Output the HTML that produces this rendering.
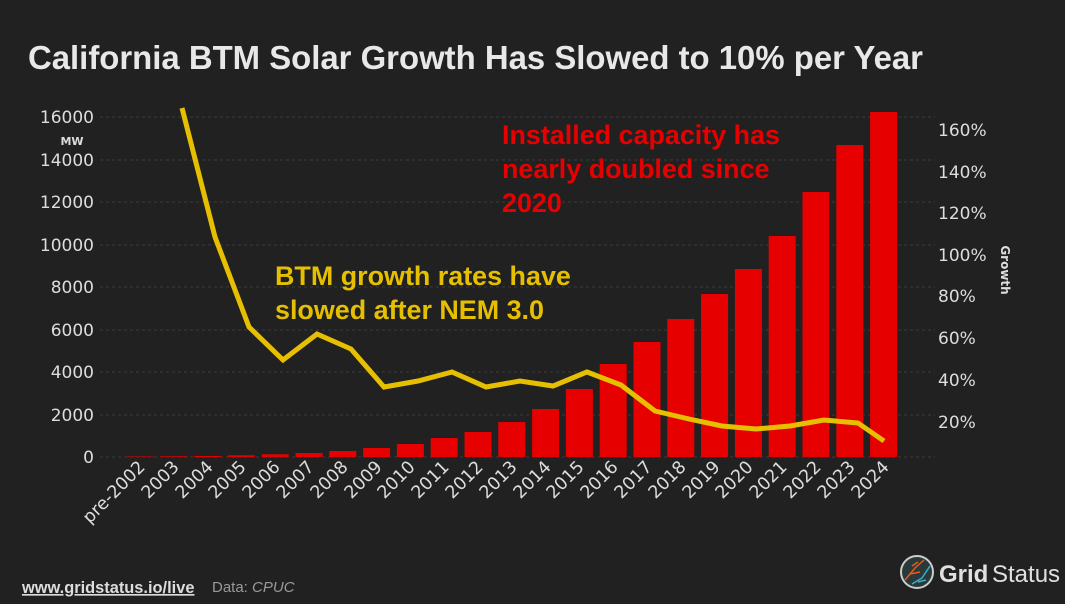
<!DOCTYPE html>
<html><head><meta charset="utf-8"><style>
html,body{margin:0;padding:0;background:#212121;}
svg{display:block;font-family:"DejaVu Sans",sans-serif;}
</style></head><body>
<svg width="1065" height="604" viewBox="0 0 1065 604" xmlns="http://www.w3.org/2000/svg">
<rect width="1065" height="604" fill="#212121"/>
<text x="28" y="69" font-family="Liberation Sans" font-weight="bold" font-size="32.9" fill="#e8e8e8">California BTM Solar Growth Has Slowed to 10% per Year</text>
<g stroke="#3a3a3a" stroke-width="1" stroke-dasharray="3,3">
<line x1="100" y1="117" x2="935" y2="117"/><line x1="100" y1="160" x2="935" y2="160"/>
<line x1="100" y1="202" x2="935" y2="202"/><line x1="100" y1="245" x2="935" y2="245"/>
<line x1="100" y1="287" x2="935" y2="287"/><line x1="100" y1="330" x2="935" y2="330"/>
<line x1="100" y1="372" x2="935" y2="372"/><line x1="100" y1="415" x2="935" y2="415"/>
<line x1="100" y1="457" x2="935" y2="457"/>
</g>
<g font-size="17" fill="#dddddd" text-anchor="end">
<text x="94" y="123">16000</text><text x="94" y="166">14000</text><text x="94" y="208">12000</text>
<text x="94" y="251">10000</text><text x="94" y="293">8000</text><text x="94" y="336">6000</text>
<text x="94" y="378">4000</text><text x="94" y="421">2000</text><text x="94" y="463">0</text>
</g>
<text x="72" y="145" font-size="11" font-weight="bold" fill="#dddddd" text-anchor="middle">MW</text>
<g font-size="17" fill="#dddddd">
<text x="938" y="136">160%</text><text x="938" y="178">140%</text><text x="938" y="219">120%</text>
<text x="938" y="261">100%</text><text x="938" y="302">80%</text><text x="938" y="344">60%</text>
<text x="938" y="386">40%</text><text x="938" y="428">20%</text>
</g>
<text transform="translate(1001,270) rotate(90)" font-size="12" font-weight="bold" fill="#dddddd" text-anchor="middle">Growth</text>
<g fill="#e60000">
<rect x="126.5" y="456.5" width="27" height="0.5"/>
<rect x="160.3" y="456.3" width="27" height="0.7"/>
<rect x="194.1" y="456" width="27" height="1"/>
<rect x="227.9" y="455.3" width="27" height="1.7"/>
<rect x="261.7" y="454.3" width="27" height="2.7"/>
<rect x="295.5" y="453" width="27" height="4"/>
<rect x="329.3" y="451" width="27" height="6"/>
<rect x="363.1" y="448" width="27" height="9"/>
<rect x="396.9" y="444" width="27" height="13"/>
<rect x="430.7" y="438" width="27" height="19"/>
<rect x="464.5" y="432" width="27" height="25"/>
<rect x="498.3" y="422" width="27" height="35"/>
<rect x="532.1" y="409" width="27" height="48"/>
<rect x="565.9" y="389" width="27" height="68"/>
<rect x="599.7" y="364" width="27" height="93"/>
<rect x="633.5" y="342" width="27" height="115"/>
<rect x="667.3" y="319" width="27" height="138"/>
<rect x="701.1" y="294" width="27" height="163"/>
<rect x="734.9" y="269" width="27" height="188"/>
<rect x="768.7" y="236" width="27" height="221"/>
<rect x="802.5" y="192" width="27" height="265"/>
<rect x="836.3" y="145" width="27" height="312"/>
<rect x="870.1" y="112" width="27" height="345"/>
</g>
<polyline fill="none" stroke="#e6c000" stroke-width="5" stroke-linejoin="miter"
points="182,108 215,237 249,327 283,360 317,334 351,349 384,387 418,381 452,372 486,387 520,381 553,386 587,372 621,385 655,411 689,419 722,426 756,429 790,426 824,420 858,423 884,441"/>
<g font-size="17.5" fill="#dddddd" text-anchor="end">
<text transform="translate(146,468) rotate(-45)">pre-2002</text>
<text transform="translate(180,468) rotate(-45)">2003</text>
<text transform="translate(214,468) rotate(-45)">2004</text>
<text transform="translate(247,468) rotate(-45)">2005</text>
<text transform="translate(281,468) rotate(-45)">2006</text>
<text transform="translate(315,468) rotate(-45)">2007</text>
<text transform="translate(349,468) rotate(-45)">2008</text>
<text transform="translate(383,468) rotate(-45)">2009</text>
<text transform="translate(416,468) rotate(-45)">2010</text>
<text transform="translate(450,468) rotate(-45)">2011</text>
<text transform="translate(484,468) rotate(-45)">2012</text>
<text transform="translate(518,468) rotate(-45)">2013</text>
<text transform="translate(552,468) rotate(-45)">2014</text>
<text transform="translate(585,468) rotate(-45)">2015</text>
<text transform="translate(619,468) rotate(-45)">2016</text>
<text transform="translate(653,468) rotate(-45)">2017</text>
<text transform="translate(687,468) rotate(-45)">2018</text>
<text transform="translate(721,468) rotate(-45)">2019</text>
<text transform="translate(754,468) rotate(-45)">2020</text>
<text transform="translate(788,468) rotate(-45)">2021</text>
<text transform="translate(822,468) rotate(-45)">2022</text>
<text transform="translate(856,468) rotate(-45)">2023</text>
<text transform="translate(890,468) rotate(-45)">2024</text>
</g>
<g font-family="Liberation Sans" font-weight="bold" font-size="26.9" fill="#e60000">
<text x="502" y="144">Installed capacity has</text>
<text x="502" y="178">nearly doubled since</text>
<text x="502" y="212">2020</text>
</g>
<g font-family="Liberation Sans" font-weight="bold" font-size="26.9" fill="#e6c000">
<text x="275" y="285">BTM growth rates have</text>
<text x="275" y="319">slowed after NEM 3.0</text>
</g>
<text x="22" y="593" font-family="Liberation Sans" font-weight="bold" font-size="16.4" fill="#dddddd" text-decoration="underline">www.gridstatus.io/live</text>
<text x="212" y="592" font-family="Liberation Sans" font-size="15" fill="#9a9a9a">Data: <tspan font-style="italic">CPUC</tspan></text>
<circle cx="917" cy="572" r="16" fill="#2a3a3c" stroke="#cccccc" stroke-width="2"/>
<path d="M905,580 L915,568 L924,560 M910,574 L920,572 M912,566 L918,562" stroke="#e85a1a" stroke-width="1.5" fill="none"/>
<path d="M912,584 L922,578 L930,566 M918,582 L926,580" stroke="#3ab0c8" stroke-width="1.5" fill="none"/>
<text x="939" y="582" font-family="Liberation Sans" font-weight="bold" font-size="24" fill="#e0e0e0">Grid</text>
<text x="992" y="582" font-family="Liberation Sans" font-size="24" fill="#e0e0e0">Status</text>
</svg>
</body></html>
